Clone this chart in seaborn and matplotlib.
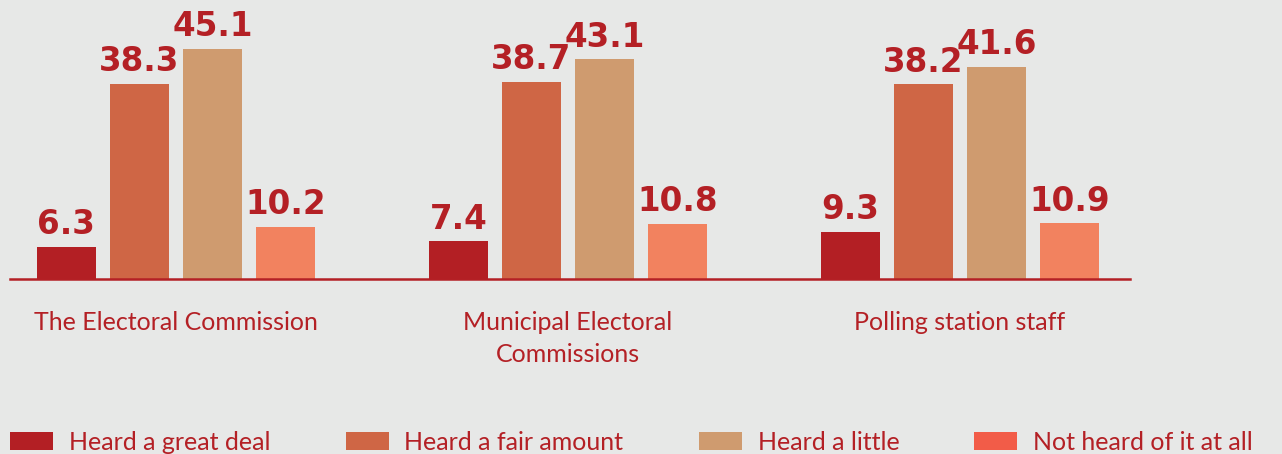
import pandas as pd
import matplotlib.pyplot as plt
from matplotlib.patches import Patch
import seaborn as sns

# ---------------------------------------------------------
# data
# ---------------------------------------------------------
groups = ["The Electoral Commission", "Municipal Electoral\nCommissions", "Polling station staff"]
responses = ["Heard a great deal", "Heard a fair amount", "Heard a little", "Not heard of it at all"]

great_deal = [6.3, 7.4, 9.3]
fair_amount = [38.3, 38.7, 38.2]
a_little = [45.1, 43.1, 41.6]
not_heard = [10.2, 10.8, 10.9]

bar_colors = ["#b31f24", "#cf6645", "#cf9b6f", "#f2825f"]
legend_colors = ["#b31f24", "#cf6645", "#cf9b6f", "#f25c48"]
red = "#b42025"
bg = "#e7e8e7"

rows = []
for series, name in zip([great_deal, fair_amount, a_little, not_heard], responses):
    for g, v in zip(groups, series):
        rows.append({"group": g, "response": name, "value": v})
df = pd.DataFrame(rows)

# ---------------------------------------------------------
# plot
# ---------------------------------------------------------
sns.set_theme(style="white")
plt.rcParams["font.family"] = ["Lato", "DejaVu Sans"]

fig = plt.figure(figsize=(12.82, 4.54), dpi=100, facecolor=bg)
ax = fig.add_axes([10 / 1282, 175 / 454, 1120 / 1282, 279 / 454])
ax.set_facecolor(bg)

sns.barplot(data=df, x="group", y="value", hue="response", hue_order=responses,
            order=groups, palette=bar_colors, width=0.745, gap=0.19,
            saturation=1, legend=False, edgecolor="none", linewidth=0, ax=ax)

for cont in ax.containers:
    ax.bar_label(cont, fmt="%.1f", padding=4, color=red, fontsize=23.5,
                 fontweight="bold", family="DejaVu Sans")

ax.set_xlim(-0.423, 2.434)
ax.set_ylim(0, 54.7)
ax.set_xlabel("")
ax.set_ylabel("")
ax.set_yticks([])
for s in ["top", "right", "left"]:
    ax.spines[s].set_visible(False)
ax.spines["bottom"].set_color(red)
ax.spines["bottom"].set_linewidth(1.8)
ax.tick_params(axis="x", length=0, pad=23, labelsize=18, labelcolor=red)
for lbl in ax.get_xticklabels():
    lbl.set_linespacing(1.5)

handles = [Patch(facecolor=c, edgecolor="none") for c in legend_colors]
leg = fig.legend(handles, responses, loc="center left",
                 bbox_to_anchor=(10 / 1282, 12 / 454), ncol=4, frameon=False,
                 fontsize=18, handlelength=1.72, handleheight=0.72,
                 handletextpad=0.64, columnspacing=3.0, borderpad=0,
                 borderaxespad=0)
for t in leg.get_texts():
    t.set_color(red)

fig.savefig("out.png", dpi=100, facecolor=bg)
